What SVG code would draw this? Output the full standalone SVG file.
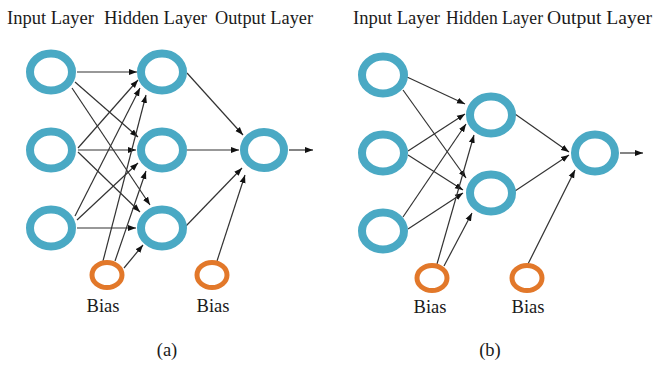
<svg xmlns="http://www.w3.org/2000/svg" width="655" height="368" viewBox="0 0 655 368">
<style>
.neuron{fill:#fff;stroke:#4aa9c4;stroke-width:8}
.bias{fill:#fff;stroke:#e2782a;stroke-width:5}
.lbl{font-family:"Liberation Serif","Times New Roman",serif;font-size:18.5px;fill:#1a1a1a}
.edge{stroke:#333;stroke-width:1.2;fill:none;marker-end:url(#arr)}
</style>
<defs>
<marker id="arr" markerUnits="userSpaceOnUse" markerWidth="9" markerHeight="7" refX="8" refY="3.5" orient="auto">
<path d="M0,0.5 L8,3.5 L0,6.5 z" fill="#111"/>
</marker>
</defs>
<rect width="655" height="368" fill="#fff"/>

<g id="headers">
<text class="lbl" x="7" y="24" textLength="87" lengthAdjust="spacingAndGlyphs">Input Layer</text>
<text class="lbl" x="104" y="24" textLength="103" lengthAdjust="spacingAndGlyphs">Hidden Layer</text>
<text class="lbl" x="215" y="24" textLength="98" lengthAdjust="spacingAndGlyphs">Output Layer</text>
<text class="lbl" x="353" y="24" textLength="87" lengthAdjust="spacingAndGlyphs">Input Layer</text>
<text class="lbl" x="446" y="24" textLength="97" lengthAdjust="spacingAndGlyphs">Hidden Layer</text>
<text class="lbl" x="547" y="24" textLength="105" lengthAdjust="spacingAndGlyphs">Output Layer</text>
</g>

<g id="connectors">
<!-- panel a -->
<line class="edge" x1="77" y1="72" x2="137" y2="72"/>
<line class="edge" x1="75" y1="82" x2="138" y2="137"/>
<line class="edge" x1="72" y1="88" x2="150" y2="205"/>
<line class="edge" x1="78" y1="148" x2="138" y2="80"/>
<line class="edge" x1="78" y1="150" x2="136" y2="150"/>
<line class="edge" x1="78" y1="152" x2="140" y2="212"/>
<line class="edge" x1="75" y1="216" x2="140" y2="88"/>
<line class="edge" x1="77" y1="220" x2="138" y2="163"/>
<line class="edge" x1="77" y1="228" x2="136" y2="228"/>
<line class="edge" x1="103" y1="261" x2="146" y2="95"/>
<line class="edge" x1="115" y1="261" x2="146" y2="171"/>
<line class="edge" x1="124" y1="268" x2="143" y2="245"/>
<line class="edge" x1="187" y1="73" x2="243" y2="135"/>
<line class="edge" x1="187" y1="150" x2="239" y2="150"/>
<line class="edge" x1="186" y1="226" x2="242" y2="168"/>
<line class="edge" x1="217" y1="261" x2="245" y2="175"/>
<line class="edge" x1="289" y1="150" x2="313" y2="150"/>
<!-- panel b -->
<line class="edge" x1="407" y1="77" x2="465" y2="104"/>
<line class="edge" x1="403" y1="90" x2="466" y2="178"/>
<line class="edge" x1="408" y1="151" x2="465" y2="114"/>
<line class="edge" x1="408" y1="155" x2="463" y2="190"/>
<line class="edge" x1="403" y1="217" x2="466" y2="124"/>
<line class="edge" x1="408" y1="229" x2="463" y2="193"/>
<line class="edge" x1="437" y1="264" x2="474" y2="135"/>
<line class="edge" x1="444" y1="266" x2="472" y2="213"/>
<line class="edge" x1="515" y1="114" x2="569" y2="152"/>
<line class="edge" x1="515" y1="191" x2="569" y2="155"/>
<line class="edge" x1="528" y1="264" x2="575" y2="170"/>
<line class="edge" x1="620" y1="153" x2="643" y2="153"/>
</g>

<g id="a-input1"><ellipse class="neuron" cx="51" cy="72" rx="21" ry="18.5"/></g>
<g id="a-input2"><ellipse class="neuron" cx="51" cy="150" rx="21" ry="18.5"/></g>
<g id="a-input3"><ellipse class="neuron" cx="51" cy="228" rx="21" ry="18.5"/></g>
<g id="a-hidden1"><ellipse class="neuron" cx="162" cy="72" rx="21" ry="18.5"/></g>
<g id="a-hidden2"><ellipse class="neuron" cx="162" cy="150" rx="21" ry="18.5"/></g>
<g id="a-hidden3"><ellipse class="neuron" cx="162" cy="228" rx="21" ry="18.5"/></g>
<g id="a-output"><ellipse class="neuron" cx="264" cy="150" rx="20" ry="18"/></g>
<g id="a-bias1"><ellipse class="bias" cx="107" cy="275" rx="15" ry="12.5"/><text class="lbl" x="103" y="312" text-anchor="middle">Bias</text></g>
<g id="a-bias2"><ellipse class="bias" cx="212" cy="275" rx="15" ry="12.5"/><text class="lbl" x="213" y="312" text-anchor="middle">Bias</text></g>
<g id="a-caption"><text class="lbl" x="167" y="356" text-anchor="middle">(a)</text></g>

<g id="b-input1"><ellipse class="neuron" cx="383" cy="75" rx="21" ry="18.5"/></g>
<g id="b-input2"><ellipse class="neuron" cx="383" cy="153" rx="21" ry="18.5"/></g>
<g id="b-input3"><ellipse class="neuron" cx="383" cy="231" rx="21" ry="18.5"/></g>
<g id="b-hidden1"><ellipse class="neuron" cx="491" cy="115" rx="21" ry="18.5"/></g>
<g id="b-hidden2"><ellipse class="neuron" cx="491" cy="193" rx="21" ry="18.5"/></g>
<g id="b-output"><ellipse class="neuron" cx="595" cy="153" rx="20" ry="18.5"/></g>
<g id="b-bias1"><ellipse class="bias" cx="432" cy="278" rx="15" ry="12.5"/><text class="lbl" x="430" y="313" text-anchor="middle">Bias</text></g>
<g id="b-bias2"><ellipse class="bias" cx="527" cy="278" rx="15" ry="12.5"/><text class="lbl" x="528" y="313" text-anchor="middle">Bias</text></g>
<g id="b-caption"><text class="lbl" x="490" y="356" text-anchor="middle">(b)</text></g>
</svg>
